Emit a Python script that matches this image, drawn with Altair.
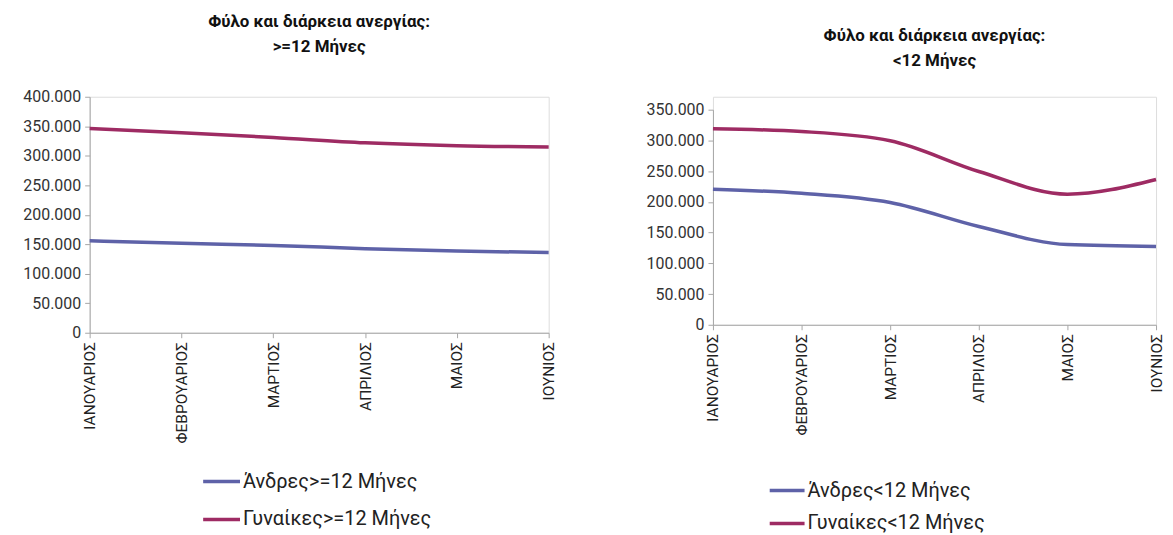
import altair as alt
import pandas as pd

months = ["ΙΑΝΟΥΑΡΙΟΣ", "ΦΕΒΡΟΥΑΡΙΟΣ", "ΜΑΡΤΙΟΣ", "ΑΠΡΙΛΙΟΣ", "ΜΑΙΟΣ", "ΙΟΥΝΙΟΣ"]

men_ge12 = [156000, 151500, 148000, 142500, 138500, 136000]
women_ge12 = [346000, 339000, 331000, 322000, 317000, 315000]

men_lt12 = [220500, 214000, 199000, 160000, 130500, 127500]
women_lt12 = [319000, 314500, 299500, 249500, 212500, 236500]

series_ge12 = ["Άνδρες>=12 Μήνες", "Γυναίκες>=12 Μήνες"]
series_lt12 = ["Άνδρες<12 Μήνες", "Γυναίκες<12 Μήνες"]

title_ge12 = ["Φύλο και διάρκεια ανεργίας:", ">=12 Μήνες"]
title_lt12 = ["Φύλο και διάρκεια ανεργίας:", "<12 Μήνες"]

colors = ["#5e62a8", "#9e2b63"]
FONT = "Roboto"


def make_df(series, men, women):
    rows = []
    for i, m in enumerate(months):
        rows.append({"month": m, "series": series[0], "value": men[i], "order": i})
        rows.append({"month": m, "series": series[1], "value": women[i], "order": i})
    return pd.DataFrame(rows)


def panel(df, series, title, width, height, top_gap, ymax, legend_x, legend_y,
          sym, row_pad, lfs, title_offset):
    return (
        alt.Chart(df)
        .mark_line(strokeWidth=3.5, interpolate="monotone")
        .encode(
            x=alt.X(
                "month:N",
                sort=months,
                scale=alt.Scale(type="point", padding=0),
                axis=alt.Axis(
                    title=None,
                    labelAngle=270,
                    labelAlign="right",
                    labelBaseline="middle",
                    labelFont=FONT,
                    labelFontSize=15.5,
                    labelColor="#222222",
                    labelPadding=4,
                    tickSize=5,
                    domainColor="#a6a6a6",
                    tickColor="#a6a6a6",
                    grid=False,
                ),
            ),
            y=alt.Y(
                "value:Q",
                scale=alt.Scale(domain=[0, ymax], nice=False, range=[height, top_gap]),
                axis=alt.Axis(
                    title=None,
                    values=list(range(0, ymax + 1, 50000)),
                    labelExpr="replace(format(datum.value, ','), regexp(',', 'g'), '.')",
                    labelFont=FONT,
                    labelFontSize=16,
                    labelColor="#333333",
                    labelPadding=4,
                    tickSize=5,
                    domainColor="#a6a6a6",
                    tickColor="#a6a6a6",
                    grid=False,
                ),
            ),
            color=alt.Color(
                "series:N",
                sort=series,
                scale=alt.Scale(domain=series, range=colors),
                legend=alt.Legend(
                    title=None,
                    orient="none",
                    legendX=legend_x,
                    legendY=legend_y,
                    direction="vertical",
                    symbolType="stroke",
                    symbolSize=sym * sym,
                    symbolStrokeWidth=3.5,
                    labelFont=FONT,
                    labelFontSize=lfs,
                    labelColor="#222222",
                    labelOffset=1,
                    rowPadding=row_pad,
                    labelLimit=400,
                ),
            ),
            order="order:Q",
        )
        .properties(
            width=width,
            height=height,
            title=alt.TitleParams(
                text=title,
                font=FONT,
                fontSize=17,
                fontWeight="bold",
                color="#111111",
                anchor="middle",
                offset=title_offset,
                lineHeight=25,
            ),
        )
    )


left = panel(make_df(series_ge12, men_ge12, women_ge12), series_ge12, title_ge12,
             461, 237, 0, 400000, 112, 366, 37, 7, 20, 33)
right = panel(make_df(series_lt12, men_lt12, women_lt12), series_lt12, title_lt12,
              445, 229, 13, 350000, 55, 376, 35, 3, 20, 27)

chart = (
    alt.hconcat(left, right, spacing=88)
    .resolve_scale(color="independent", y="independent")
    .resolve_legend(color="independent")
    .properties(padding={"left": 14, "top": 3, "right": 0, "bottom": 0})
    .configure_view(stroke=None)
    .configure(font=FONT)
)

chart.save("out.html", embed_options={"renderer": "svg", "actions": False})
